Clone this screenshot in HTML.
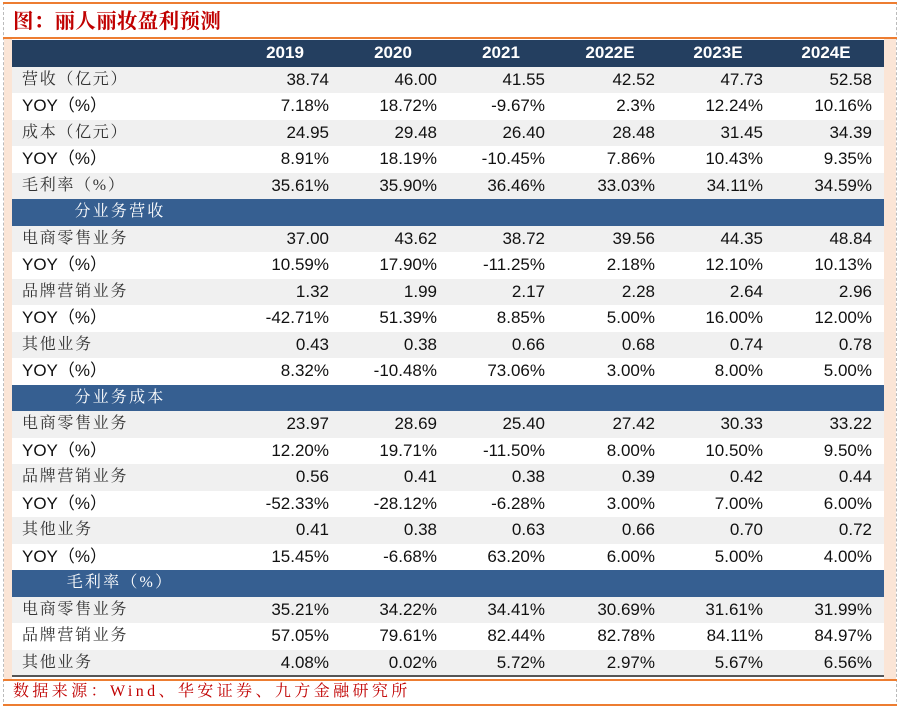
<!DOCTYPE html>
<html><head><meta charset="utf-8">
<style>
html,body{margin:0;padding:0;background:#fff;}
#root{position:relative;width:901px;height:711px;overflow:hidden;background:#fff;font-family:"Liberation Sans","Noto Sans CJK SC",sans-serif;}
.abs{position:absolute;}
.cell{position:absolute;font-size:17px;color:#111;line-height:26px;white-space:nowrap;}
.lbl{position:absolute;font-family:"Liberation Serif","Noto Serif CJK SC",serif;font-size:16px;color:#333;line-height:26px;white-space:nowrap;letter-spacing:1.7px;}
</style></head><body>
<div id="root">
  <div class="abs" style="left:3px;top:2px;width:0;height:700px;border-left:1px dashed #bbb;"></div>
  <div class="abs" style="left:896px;top:2px;width:0;height:700px;border-left:1px dashed #bbb;"></div>
  <div class="abs" style="left:3px;top:2px;width:894px;height:2px;background:#ed7d31;"></div>
  <div class="abs" style="left:13px;top:7px;font-family:'Liberation Serif','Noto Serif CJK SC',serif;font-weight:bold;font-size:20.5px;letter-spacing:0.3px;color:#c00000;line-height:30px;">图：丽人丽妆盈利预测</div>
  <div class="abs" style="left:3px;top:37px;width:894px;height:2px;background:#ed7d31;"></div>
  <div class="abs" style="left:4px;top:39px;width:8px;height:640px;background:#fbe5d6;"></div>
  <div class="abs" style="left:884px;top:39px;width:12px;height:640px;background:#fbe5d6;"></div>
  <div id="tbl"></div>
  <div class="abs" style="left:3px;top:679px;width:894px;height:2px;background:#ed7d31;"></div>
  <div class="abs" style="left:13px;top:680px;font-family:'Liberation Serif','Noto Serif CJK SC',serif;font-size:16px;color:#c00000;line-height:24px;letter-spacing:3.4px;">数据来源：Wind、华安证券、九方金融研究所</div>
  <div class="abs" style="left:3px;top:704px;width:894px;height:2px;background:#ed7d31;"></div>
</div>
<script>
const years = ["2019","2020","2021","2022E","2023E","2024E"];
const rowLabels = ["营收（亿元）","YOY（%）","成本（亿元）","YOY（%）","毛利率（%）","#分业务营收","电商零售业务","YOY（%）","品牌营销业务","YOY（%）","其他业务","YOY（%）","#分业务成本","电商零售业务","YOY（%）","品牌营销业务","YOY（%）","其他业务","YOY（%）","#毛利率（%）","电商零售业务","品牌营销业务","其他业务"];
const rowValues = [
["38.74","46.00","41.55","42.52","47.73","52.58"],
["7.18%","18.72%","-9.67%","2.3%","12.24%","10.16%"],
["24.95","29.48","26.40","28.48","31.45","34.39"],
["8.91%","18.19%","-10.45%","7.86%","10.43%","9.35%"],
["35.61%","35.90%","36.46%","33.03%","34.11%","34.59%"],
null,
["37.00","43.62","38.72","39.56","44.35","48.84"],
["10.59%","17.90%","-11.25%","2.18%","12.10%","10.13%"],
["1.32","1.99","2.17","2.28","2.64","2.96"],
["-42.71%","51.39%","8.85%","5.00%","16.00%","12.00%"],
["0.43","0.38","0.66","0.68","0.74","0.78"],
["8.32%","-10.48%","73.06%","3.00%","8.00%","5.00%"],
null,
["23.97","28.69","25.40","27.42","30.33","33.22"],
["12.20%","19.71%","-11.50%","8.00%","10.50%","9.50%"],
["0.56","0.41","0.38","0.39","0.42","0.44"],
["-52.33%","-28.12%","-6.28%","3.00%","7.00%","6.00%"],
["0.41","0.38","0.63","0.66","0.70","0.72"],
["15.45%","-6.68%","63.20%","6.00%","5.00%","4.00%"],
null,
["35.21%","34.22%","34.41%","30.69%","31.61%","31.99%"],
["57.05%","79.61%","82.44%","82.78%","84.11%","84.97%"],
["4.08%","0.02%","5.72%","2.97%","5.67%","6.56%"]
];
const tbl=document.getElementById('tbl');
const L=12,R=884,T=40,RH=26.5;
const colRight=[329,437,545,655,763,872];
const headCenter=[285,393,501,610,718,826];
function div(cls,css,text){const d=document.createElement('div');d.className=cls;d.style.cssText=css;if(text!=null)d.textContent=text;tbl.appendChild(d);return d;}
let h=div('abs',`left:${L}px;top:${T}px;width:${R-L}px;height:${RH}px;background:#243f60;`);


years.forEach((y,i)=>{
  const c=div('cell',`left:${headCenter[i]-50}px;width:100px;text-align:center;top:${T}px;color:#fff;font-weight:bold;line-height:${RH}px;`,y);
  
  
});
let dataIdx=0;
rowLabels.forEach((lab,r)=>{
  const top=T+RH*(r+1);
  if(lab[0]==='#'){
    const b=div('abs',`left:${L}px;top:${top}px;width:${R-L}px;height:${RH}px;background:#365f91;`);
    
    
    const t=div('lbl',`left:20px;width:200px;text-align:center;top:${top}px;color:#fff;line-height:${RH}px;letter-spacing:2.2px;`,lab.slice(1));
    
    
    dataIdx=0;
    return;
  }
  const bg=(dataIdx%2===0)?'#f0f0f0':'#ffffff';
  dataIdx++;
  const rw=div('abs',`left:${L}px;top:${top}px;width:${R-L}px;height:${RH}px;background:${bg};`);
  
  
  const isYoy=lab.startsWith('YOY');
  const l=div(isYoy?'cell':'lbl',`left:22px;top:${top}px;line-height:${RH}px;`+(isYoy?'color:#111;':''),lab);
  
  
  rowValues[r].forEach((v,i)=>{
    const c=div('cell',`left:${colRight[i]-100}px;width:100px;text-align:right;top:${top}px;line-height:${RH}px;`,v);
    
    
  });
});
const bl=div('abs',`left:${L}px;top:${T+RH*24-1}px;width:${R-L}px;height:2px;background:#555;`);


</script>
</body></html>
